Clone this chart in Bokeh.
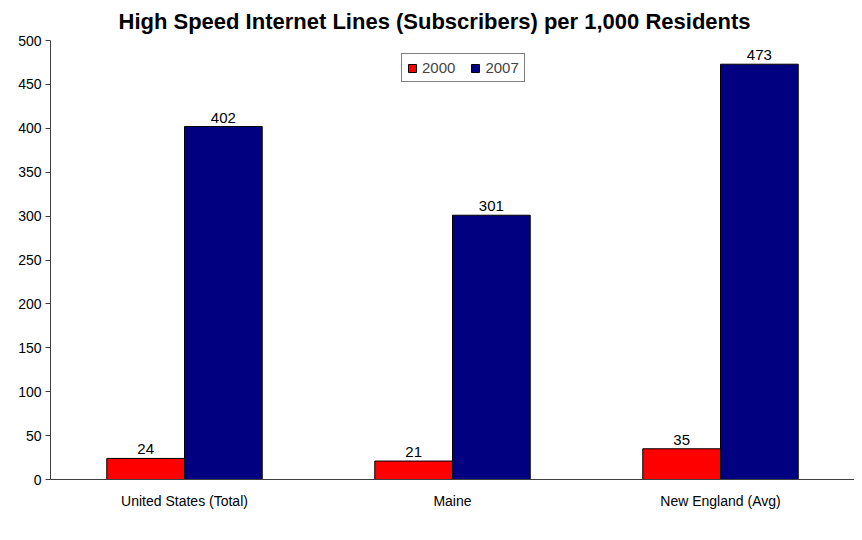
from bokeh.plotting import figure
from bokeh.models import (ColumnDataSource, FactorRange, Range1d, LabelSet, Legend,
                          LegendItem, FixedTicker, Title)
from bokeh.core.properties import value
from bokeh.transform import dodge
from bokeh.embed import file_html
from bokeh.resources import INLINE

title_text = "High Speed Internet Lines (Subscribers) per 1,000 Residents"
categories = ["United States (Total)", "Maine", "New England (Avg)"]
series_names = ["2000", "2007"]
values_2000 = [24, 21, 35]
values_2007 = [402, 301, 473]
y_ticks = [0, 50, 100, 150, 200, 250, 300, 350, 400, 450, 500]

FONT = "Liberation Sans"
BAR_W = 0.29

src = ColumnDataSource(dict(
    cat=categories,
    v2000=values_2000,
    v2007=values_2007,
    t2000=[str(v) for v in values_2000],
    t2007=[str(v) for v in values_2007],
))

p = figure(width=854, height=524, output_backend="svg", toolbar_location=None,
           x_range=FactorRange(factors=categories, range_padding=0),
           y_range=Range1d(0, 500),
           min_border_left=50, min_border_right=0, min_border_top=40,
           min_border_bottom=45, outline_line_color=None)

title = Title(text=title_text, text_font=FONT, text_font_size="22px",
              text_font_style="bold", align="left", offset=68,
              vertical_align="middle",
              text_color="black", standoff=11)
p.add_layout(title, "above")

p.xgrid.grid_line_color = None
p.ygrid.grid_line_color = None

r1 = p.vbar(x=dodge("cat", -BAR_W / 2, range=p.x_range), top="v2000", width=BAR_W,
            source=src, fill_color="#FF0000", line_color="black", line_width=1)
r2 = p.vbar(x=dodge("cat", BAR_W / 2, range=p.x_range), top="v2007", width=BAR_W,
            source=src, fill_color="#000080", line_color="black", line_width=1)

for col, txt, off in (("v2000", "t2000", -BAR_W / 2), ("v2007", "t2007", BAR_W / 2)):
    p.add_layout(LabelSet(x=dodge("cat", off, range=p.x_range), y=col, text=txt,
                          source=src, text_align="center", text_baseline="bottom",
                          y_offset=4, text_font=value(FONT), text_font_size=value("15px"),
                          text_color=value("black")))

legend = Legend(items=[LegendItem(label=series_names[0], renderers=[r1]),
                       LegendItem(label=series_names[1], renderers=[r2])],
                orientation="horizontal", location=(351, 397),
                label_text_font=FONT, label_text_font_size="15px",
                glyph_width=10, glyph_height=10, label_standoff=5,
                label_height=14, spacing=15, padding=5, margin=0,
                border_line_color="black", border_line_width=1,
                background_fill_color="white", background_fill_alpha=1)
p.add_layout(legend, "center")

p.yaxis.ticker = FixedTicker(ticks=y_ticks)
p.yaxis.axis_line_color = "#404040"
p.yaxis.major_tick_line_color = "#404040"
p.yaxis.major_tick_out = 5
p.yaxis.major_tick_in = 0
p.yaxis.minor_tick_line_color = None
p.yaxis.major_label_text_font = FONT
p.yaxis.major_label_text_font_size = "14px"
p.yaxis.major_label_text_color = "black"
p.yaxis.major_label_standoff = 4

p.xaxis.axis_line_color = "#404040"
p.xaxis.major_tick_line_color = None
p.xaxis.minor_tick_line_color = None
p.xaxis.major_label_text_font = FONT
p.xaxis.major_label_text_font_size = "14px"
p.xaxis.major_label_text_color = "black"
p.xaxis.major_label_standoff = 7

open("out.html", "w").write(file_html(p, INLINE))
